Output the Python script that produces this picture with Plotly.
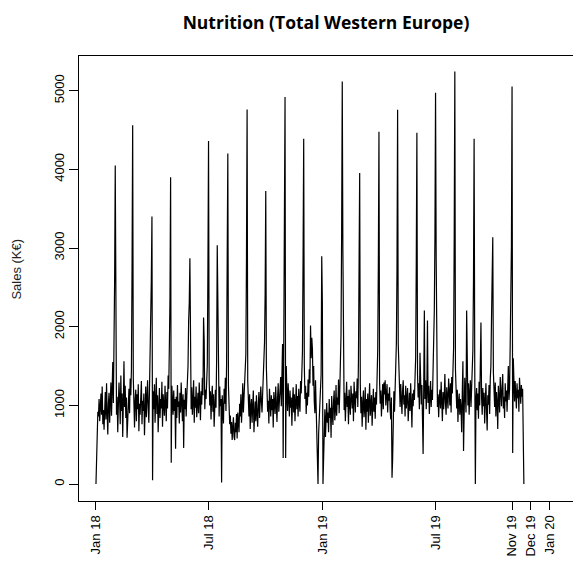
import pandas as pd
import plotly.graph_objects as go

# Daily sales (K€), one list per month
jan18 = [0, 450, 890, 920, 860, 1080, 800, 1000, 1150, 880, 1240, 760, 940, 690, 1050, 1170, 820, 1280, 910, 630, 1020, 1160, 780, 950, 1290, 870, 1120, 1550, 1030, 1610, 2600]
feb18 = [4050, 1220, 880, 1110, 660, 1000, 1290, 1070, 760, 1380, 930, 1150, 600, 1020, 1560, 980, 1250, 840, 1100, 590, 790, 960, 1210, 900, 1340, 1130, 1450, 2750]
mar18 = [4560, 1350, 910, 720, 1080, 1200, 800, 1140, 950, 1270, 670, 1020, 880, 1190, 1310, 760, 1060, 930, 1150, 620, 990, 1240, 850, 1090, 1320, 970, 780, 1180, 1590, 1930, 2600]
apr18 = [3400, 50, 1180, 950, 1270, 780, 1060, 1350, 890, 1130, 660, 1000, 1220, 840, 1080, 960, 1300, 730, 1140, 1010, 870, 1250, 1100, 800, 1170, 960, 1380, 1210, 1750, 2370]
may18 = [3900, 270, 1250, 1020, 880, 1190, 930, 1080, 450, 1110, 840, 1260, 980, 1050, 770, 1160, 910, 1290, 1030, 800, 1140, 460, 1070, 950, 1220, 860, 1110, 1310, 1500, 2080, 2300]
jun18 = [2870, 1190, 950, 1230, 880, 1060, 1320, 780, 1110, 970, 1240, 850, 1030, 1160, 900, 1290, 1070, 810, 1180, 1010, 1350, 1130, 2117, 1820, 950, 1200, 1080, 1380, 1520, 2740]
jul18 = [4360, 1320, 1000, 1180, 820, 1090, 1250, 920, 1140, 730, 1050, 1200, 970, 1580, 3036, 2117, 1110, 860, 1240, 990, 1080, 20, 1130, 950, 770, 1210, 1020, 1350, 930, 1520, 2880]
aug18 = [4200, 1250, 980, 760, 870, 640, 790, 560, 720, 850, 600, 560, 780, 660, 890, 580, 910, 770, 660, 1020, 860, 1140, 780, 990, 1280, 910, 1070, 1190, 1360, 1650, 2870]
sep18 = [4760, 1310, 1030, 860, 1140, 700, 990, 1080, 780, 920, 1190, 660, 960, 1050, 800, 1130, 900, 730, 1010, 1170, 840, 980, 1240, 1050, 910, 1150, 1320, 1460, 1800, 2420]
oct18 = [3725, 1480, 1140, 920, 1060, 770, 1210, 990, 860, 1130, 940, 1080, 720, 1170, 1010, 890, 1240, 960, 790, 1100, 1280, 920, 1050, 1190, 1360, 990, 1600, 1780, 330, 1860, 3380]
nov18 = [4920, 330, 1500, 1150, 930, 1280, 1020, 860, 1190, 970, 1100, 740, 1050, 1230, 910, 1140, 800, 1080, 1270, 950, 1120, 860, 1210, 1030, 920, 1310, 1150, 1410, 1690, 2900]
dec18 = [4390, 1520, 1080, 1250, 890, 1160, 1000, 1330, 1110, 1460, 1280, 2015, 1600, 1860, 1720, 1250, 1500, 1050, 900, 1320, 980, 800, 510, 0, 640, 880, 950, 1100, 1400, 2895, 2300]
jan19 = [0, 460, 720, 950, 600, 860, 1030, 780, 910, 660, 1080, 840, 970, 590, 1120, 900, 750, 1050, 1190, 810, 940, 1260, 870, 1100, 1010, 1330, 900, 1180, 1420, 1900, 3200]
feb19 = [5115, 2970, 1230, 940, 1160, 800, 1050, 1300, 980, 1120, 760, 1200, 1020, 880, 1250, 1070, 960, 1150, 800, 1300, 1030, 910, 1180, 1090, 1340, 980, 1550, 2615]
mar19 = [3954, 1280, 900, 1110, 730, 1020, 1190, 850, 960, 1230, 690, 1080, 920, 1150, 780, 1040, 1280, 870, 990, 1130, 740, 1060, 1210, 920, 1100, 830, 1170, 1010, 1380, 1700, 2755]
apr19 = [4477, 1300, 1020, 1190, 860, 1080, 1270, 950, 1290, 1140, 1320, 1000, 1200, 1270, 910, 1150, 1060, 1230, 940, 820, 1100, 80, 320, 1050, 1180, 920, 1250, 1380, 1786, 2730]
may19 = [4758, 1786, 1450, 1140, 980, 1270, 1060, 890, 1190, 1320, 1010, 1130, 860, 1250, 960, 1090, 1220, 800, 1040, 1160, 930, 1280, 1020, 720, 1150, 990, 1200, 1070, 1350, 1600, 2806]
jun19 = [4464, 1400, 1100, 1280, 950, 1670, 1190, 1010, 1260, 880, 383, 1220, 2207, 1080, 1320, 950, 1160, 2080, 1030, 1250, 890, 1140, 1310, 980, 1200, 1070, 1420, 1600, 2200, 3138]
jul19 = [4974, 2880, 1250, 980, 1140, 850, 1080, 1200, 960, 1300, 1050, 800, 1170, 950, 1110, 1400, 1020, 880, 1230, 1090, 960, 1340, 1140, 1000, 1280, 910, 1360, 1150, 1450, 1730, 3125]
aug19 = [5242, 1460, 1110, 960, 1200, 790, 1040, 1150, 880, 1080, 970, 660, 1180, 1560, 420, 1020, 1350, 1130, 910, 2207, 1200, 1000, 1280, 880, 1150, 1320, 980, 1210, 1400, 1700, 2590]
sep19 = [4388, 1550, 0, 1080, 1220, 940, 1150, 830, 1300, 1000, 1450, 2054, 1100, 880, 1220, 990, 1160, 770, 1050, 1280, 920, 680, 1130, 1010, 1260, 890, 1340, 1500, 2117, 2525]
oct19 = [3138, 1420, 1130, 980, 1290, 860, 1170, 1030, 700, 1250, 1080, 910, 1360, 1140, 990, 1230, 1400, 960, 1110, 840, 1280, 1050, 1190, 920, 1340, 1500, 1070, 1210, 1750, 2300, 3036]
nov19 = [5051, 395, 1600, 1220, 1050, 1310, 1140, 960, 1280, 1090, 1200, 920, 1350, 1150, 1020, 1260, 1110, 1210, 640, 0]

month_starts = ["2018-01-01", "2018-02-01", "2018-03-01", "2018-04-01", "2018-05-01", "2018-06-01",
                "2018-07-01", "2018-08-01", "2018-09-01", "2018-10-01", "2018-11-01", "2018-12-01",
                "2019-01-01", "2019-02-01", "2019-03-01", "2019-04-01", "2019-05-01", "2019-06-01",
                "2019-07-01", "2019-08-01", "2019-09-01", "2019-10-01", "2019-11-01"]
month_values = [jan18, feb18, mar18, apr18, may18, jun18, jul18, aug18, sep18, oct18, nov18, dec18,
                jan19, feb19, mar19, apr19, may19, jun19, jul19, aug19, sep19, oct19, nov19]

tick_dates = ["2018-01-01", "2018-07-01", "2019-01-01", "2019-07-01", "2019-11-01", "2019-12-01", "2020-01-01"]
tick_labels = ["Jan 18", "Jul 18", "Jan 19", "Jul 19", "Nov 19", "Dec 19", "Jan 20"]
y_ticks = [0, 1000, 2000, 3000, 4000, 5000]

dates, sales = [], []
for start, vals in zip(month_starts, month_values):
    dates.extend(pd.date_range(start, periods=len(vals), freq="D"))
    sales.extend(vals)

FONT = "Liberation Sans, Arial, sans-serif"

fig = go.Figure()
fig.add_trace(go.Scatter(x=dates, y=sales, mode="lines",
                         line=dict(color="black", width=1.2), hoverinfo="skip"))

fig.update_layout(
    width=573, height=564,
    margin=dict(l=79, r=0, t=56, b=63),
    paper_bgcolor="white", plot_bgcolor="white",
    showlegend=False,
    font=dict(family=FONT, color="black", size=13),
    title=dict(text="<b>Nutrition (Total Western Europe)</b>", xref="paper", x=0.5, xanchor="center",
               yref="container", y=0.959, yanchor="middle",
               font=dict(family="Open Sans, Noto Sans, sans-serif", size=17.5, color="black")),
    xaxis=dict(type="date", range=["2017-12-04 17:00", "2020-02-07"],
               tickmode="array", tickvals=tick_dates, ticktext=tick_labels, tickangle=-90,
               ticks="outside", ticklen=8, tickwidth=1, tickcolor="black",
               showline=True, linecolor="black", linewidth=1.3, mirror=True,
               showgrid=False, zeroline=False, tickfont=dict(family=FONT, size=13, color="black")),
    yaxis=dict(range=[-215, 5440], tickmode="array", tickvals=y_ticks, tickangle=-90,
               ticks="outside", ticklen=9, tickwidth=1, tickcolor="black",
               showline=True, linecolor="black", linewidth=1.3, mirror=False,
               showgrid=False, zeroline=False, tickfont=dict(family=FONT, size=13, color="black")),
    annotations=[dict(text="Sales (K€)", xref="paper", yref="paper", x=-0.1255, y=0.52,
                      xanchor="center", yanchor="middle", textangle=-90, showarrow=False,
                      font=dict(family=FONT, size=13, color="#222"))],
)

fig.write_html("out.html", config={"displayModeBar": False},
               post_script="document.body.style.margin='0';document.body.style.overflow='hidden';")
